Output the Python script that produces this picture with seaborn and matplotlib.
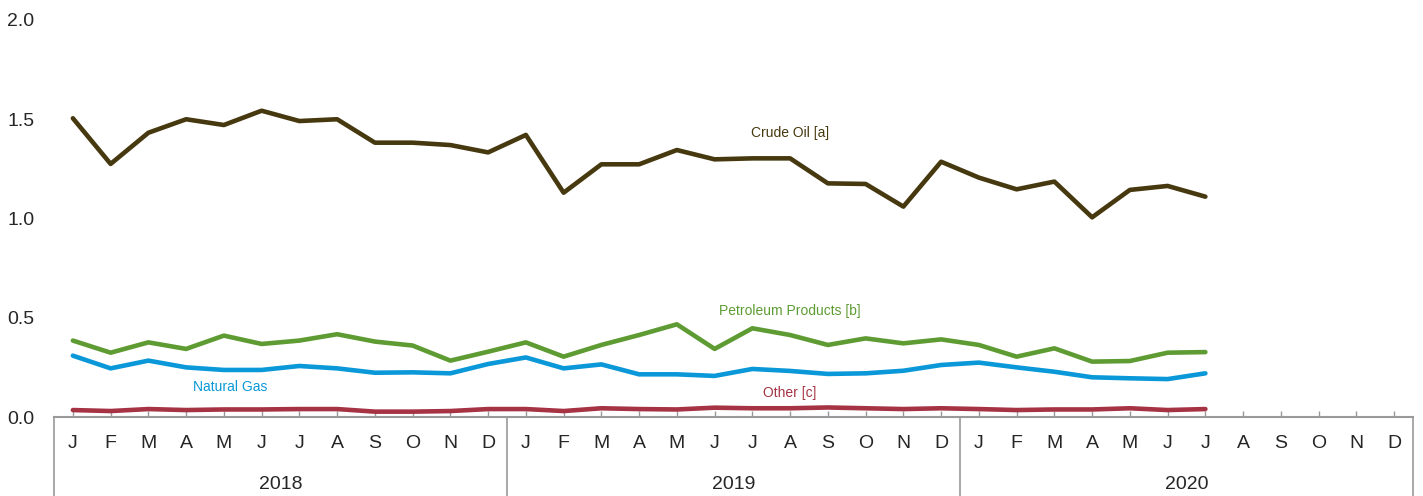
import matplotlib.pyplot as plt
import matplotlib.transforms as mtransforms
import numpy as np
import pandas as pd
import seaborn as sns

months = ["J", "F", "M", "A", "M", "J", "J", "A", "S", "O", "N", "D"] * 3
years = ["2018", "2019", "2020"]

crude_oil = [1.505, 1.275, 1.432, 1.500, 1.471, 1.543, 1.491, 1.500, 1.382, 1.382, 1.370, 1.333,
             1.421, 1.130, 1.273, 1.273, 1.345, 1.298, 1.303, 1.303, 1.177, 1.174, 1.060, 1.286,
             1.206, 1.147, 1.186, 1.006, 1.144, 1.164, 1.110]
petroleum = [0.385, 0.324, 0.376, 0.343, 0.410, 0.368, 0.385, 0.417, 0.380, 0.360, 0.284, 0.329,
             0.376, 0.304, 0.363, 0.413, 0.467, 0.343, 0.447, 0.413, 0.363, 0.396, 0.371, 0.391,
             0.363, 0.304, 0.346, 0.279, 0.282, 0.324, 0.327]
natural_gas = [0.309, 0.245, 0.284, 0.250, 0.237, 0.237, 0.257, 0.245, 0.223, 0.225, 0.220, 0.267,
               0.300, 0.245, 0.265, 0.215, 0.215, 0.207, 0.242, 0.232, 0.217, 0.220, 0.233, 0.262,
               0.274, 0.250, 0.228, 0.200, 0.195, 0.191, 0.220]
other = [0.035, 0.030, 0.040, 0.035, 0.038, 0.038, 0.040, 0.040, 0.027, 0.027, 0.030, 0.040,
         0.040, 0.030, 0.044, 0.040, 0.038, 0.047, 0.044, 0.044, 0.048, 0.044, 0.040, 0.044,
         0.040, 0.035, 0.038, 0.038, 0.044, 0.035, 0.040]

series = {"Crude Oil [a]": crude_oil, "Petroleum Products [b]": petroleum,
          "Natural Gas": natural_gas, "Other [c]": other}
colors = {"Crude Oil [a]": "#46380f", "Petroleum Products [b]": "#5e9c33",
          "Natural Gas": "#0a98d8", "Other [c]": "#a53343"}

rows = []
for name, vals in series.items():
    for i, v in enumerate(vals):
        rows.append({"month": i, "value": v, "series": name})
df = pd.DataFrame(rows)

sns.set_style("white")
plt.rcParams["font.family"] = ["Liberation Sans", "DejaVu Sans"]

fig = plt.figure(figsize=(14.23, 4.96), dpi=100)
ax = fig.add_axes([54 / 1423, 79 / 496, 1359 / 1423, 397 / 496])

sns.lineplot(data=df, x="month", y="value", hue="series", palette=colors,
             linewidth=3.3, legend=False, ax=ax)

ax.set_xlim(-0.5, 35.5)
ax.set_ylim(0, 2.0)
ax.set_yticks([0, 0.5, 1.0, 1.5, 2.0])
ax.set_yticklabels(["0.0", "0.5", "1.0", "1.5", "2.0"])
ax.set_xticks(range(36))
ax.set_xticklabels(months)
ax.set_xlabel("")
ax.set_ylabel("")
ax.tick_params(axis="x", direction="in", length=4, width=1, color="#999999",
               labelsize=14, pad=13, bottom=True)
ax.tick_params(axis="y", length=0, labelsize=14, pad=14)
for s in ["left", "top", "right"]:
    ax.spines[s].set_visible(False)
ax.spines["bottom"].set_color("#999999")
ax.spines["bottom"].set_linewidth(1.5)

trans = mtransforms.blended_transform_factory(ax.transData, ax.transAxes)
for xb in [-0.5, 11.5, 23.5, 35.5]:
    ax.plot([xb, xb], [0, -0.2], color="#999999", lw=1.2, transform=trans, clip_on=False)
for k, yr in enumerate(years):
    ax.text(5.5 + 12 * k, -0.17, yr, transform=trans, ha="center", va="center", fontsize=14)

lab = dict(ha="center", va="center", fontsize=10)
ax.text(19.0, 1.43, "Crude Oil [a]", color=colors["Crude Oil [a]"], **lab)
ax.text(19.0, 0.534, "Petroleum Products [b]", color=colors["Petroleum Products [b]"], **lab)
ax.text(4.16, 0.151, "Natural Gas", color=colors["Natural Gas"], **lab)
ax.text(19.0, 0.121, "Other [c]", color=colors["Other [c]"], **lab)

fig.savefig("out.png", dpi=100)
